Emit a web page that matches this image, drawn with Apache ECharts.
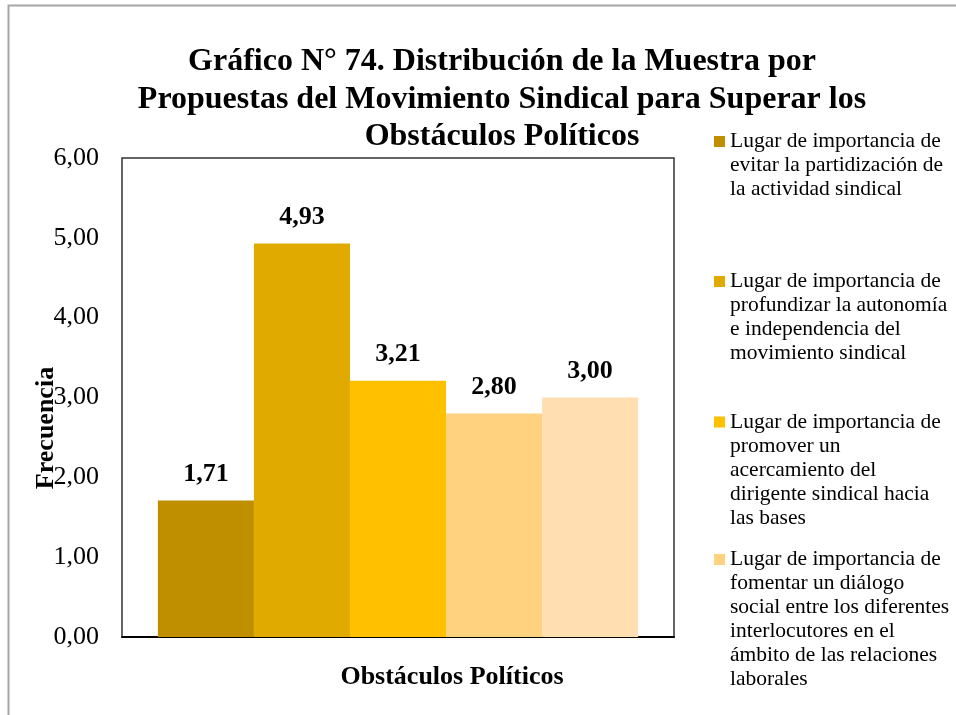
<!DOCTYPE html>
<html>
<head>
<meta charset="utf-8">
<script src="https://cdn.jsdelivr.net/npm/echarts@6/dist/echarts.min.js"></script>
<style>
  html, body { margin: 0; padding: 0; background: #fff; }
  #chart { width: 956px; height: 715px; }
</style>
</head>
<body>
<div id="chart"></div>
<script>
// Proposals of the union movement to overcome political obstacles
const categories = ['Obstáculos Políticos'];
const seriesNames = [
  'Lugar de importancia de evitar la partidización de la actividad sindical',
  'Lugar de importancia de profundizar la autonomía e independencia del movimiento sindical',
  'Lugar de importancia de promover un acercamiento del dirigente sindical hacia las bases',
  'Lugar de importancia de fomentar un diálogo social entre los diferentes interlocutores en el ámbito de las relaciones laborales',
  'Lugar de importancia de otras propuestas'
];
const seriesValues = [1.71, 4.93, 3.21, 2.80, 3.00];
const seriesColors = ['#BF8F00', '#E1AA00', '#FFC000', '#FFD280', '#FFDFB2'];
const yTicks = [0, 1, 2, 3, 4, 5, 6];

const FONT = '"Liberation Serif", "Times New Roman", serif';
const fmt = v => v.toFixed(2).replace('.', ',');

// Word-wrap helper so every legend entry keeps its square beside the first line
const measureCtx = document.createElement('canvas').getContext('2d');
function wrapLines(text, font, maxWidth) {
  measureCtx.font = font;
  const words = text.split(' ');
  const lines = [];
  let cur = '';
  words.forEach(w => {
    const test = cur ? cur + ' ' + w : w;
    if (cur && measureCtx.measureText(test).width > maxWidth) {
      lines.push(cur);
      cur = w;
    } else {
      cur = test;
    }
  });
  if (cur) lines.push(cur);
  return lines;
}

const LEG_FONT_SIZE = 21.5;
const LEG_LINE = 24;
const legendCenters = [141.5, 281.5, 422, 559.5];
const legends = legendCenters.map((c, i) => {
  const lines = wrapLines(seriesNames[i], LEG_FONT_SIZE + 'px "Liberation Serif"', 225);
  const n = lines.length;
  // blank lines above push the first text line level with the square
  const text = new Array(n - 1).fill('').concat(lines).join('\n');
  return {
    data: [seriesNames[i]],
    left: 714,
    top: c - LEG_LINE * n + 12,
    padding: 0,
    icon: 'rect',
    itemWidth: 11,
    itemHeight: 11,
    selectedMode: false,
    formatter: () => text,
    textStyle: {
      fontFamily: FONT,
      fontSize: LEG_FONT_SIZE,
      lineHeight: LEG_LINE,
      color: '#000'
    }
  };
});

const chart = echarts.init(document.getElementById('chart'), null, { renderer: 'canvas' });

chart.setOption({
  animation: false,
  backgroundColor: '#fff',
  title: {
    text: 'Gráfico N° 74. Distribución de la Muestra por\nPropuestas del Movimiento Sindical para Superar los\nObstáculos Políticos',
    left: 502,
    top: 43,
    padding: 0,
    textAlign: 'center',
    textStyle: {
      fontFamily: FONT,
      fontWeight: 'bold',
      fontSize: 32,
      lineHeight: 37.5,
      color: '#000'
    }
  },
  legend: legends,
  grid: {
    left: 122,
    right: 282,
    top: 158,
    bottom: 78,
    show: true,
    borderColor: '#333',
    borderWidth: 1.5,
    backgroundColor: '#fff'
  },
  xAxis: {
    type: 'category',
    data: categories,
    axisLine: { lineStyle: { color: '#000', width: 2 } },
    axisTick: { show: false },
    axisLabel: { show: false }
  },
  yAxis: {
    type: 'value',
    min: yTicks[0],
    max: yTicks[yTicks.length - 1],
    interval: 1,
    axisLine: { show: false },
    axisTick: { show: false },
    splitLine: { show: false },
    axisLabel: {
      formatter: v => fmt(v),
      fontFamily: FONT,
      fontSize: 26,
      color: '#000',
      margin: 23
    }
  },
  series: seriesNames.map((name, i) => ({
    name: name,
    type: 'bar',
    data: [seriesValues[i]],
    barGap: '0%',
    barCategoryGap: '13%',
    itemStyle: { color: seriesColors[i] },
    label: {
      show: true,
      position: 'top',
      distance: 13,
      formatter: p => fmt(p.value),
      fontFamily: FONT,
      fontWeight: 'bold',
      fontSize: 26,
      color: '#000'
    }
  })),
  graphic: [
    {
      type: 'rect',
      z: -10,
      silent: true,
      shape: { x: 8.5, y: 5.5, width: 1200, height: 1200 },
      style: { fill: 'none', stroke: '#a6a6a6', lineWidth: 2 }
    },
    {
      type: 'text',
      x: 46,
      y: 428,
      rotation: Math.PI / 2,
      silent: true,
      style: {
        text: 'Frecuencia',
        fontFamily: FONT,
        fontWeight: 'bold',
        fontSize: 26,
        fill: '#000',
        align: 'center',
        verticalAlign: 'middle'
      }
    },
    {
      type: 'text',
      x: 452,
      y: 677,
      silent: true,
      style: {
        text: categories[0],
        fontFamily: FONT,
        fontWeight: 'bold',
        fontSize: 26,
        fill: '#000',
        align: 'center',
        verticalAlign: 'middle'
      }
    }
  ]
});
</script>
</body>
</html>
